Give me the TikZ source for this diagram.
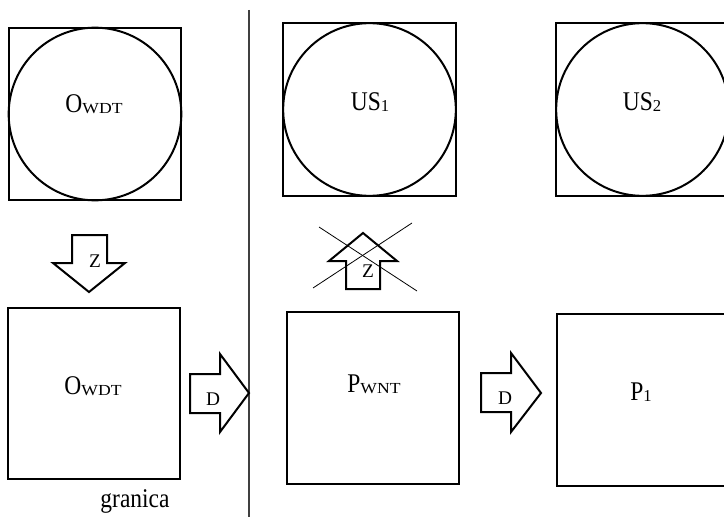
\documentclass[tikz,border=0pt]{standalone}
\usepackage{fontspec}
\usepackage{graphicx}
\setmainfont[FakeStretch=0.87]{Liberation Serif}
\newfontfamily\plainfont{Liberation Serif}
\newcommand\subtxt[1]{{\plainfont\fontsize{11.5pt}{12pt}\selectfont\raisebox{-1pt}{\scalebox{1.15}[1]{#1}}}}
\newcommand\subnum[1]{{\plainfont\fontsize{12.5pt}{13pt}\selectfont\raisebox{-1pt}{#1}}}
\tikzset{
  box/.style={draw, line width=1.5pt, rectangle, inner sep=0pt, outer sep=0pt},
  ring/.style={draw, line width=1.5pt, circle, inner sep=0pt, outer sep=0pt, minimum size=129.5pt},
  lbl/.style={anchor=base, inner sep=0pt, font=\fontsize{20.25pt}{22pt}\selectfont},
  albl/.style={anchor=base, inner sep=0pt, font=\plainfont\fontsize{14.5pt}{16pt}\selectfont},
  blockarrow/.style={draw, line width=1.5pt, fill=white, line join=miter},
  crossline/.style={draw, line width=0.6pt},
  divider/.style={draw, line width=0.9pt, black!75}
}
\begin{document}
\begin{tikzpicture}[x=0.75pt, y=-0.75pt]
\useasboundingbox (0,0) rectangle (724,517);
\clip (0,0) rectangle (724,517);
\fill[white] (0,0) rectangle (724,517);

% divider
\coordinate (dtop) at (249,10);
\coordinate (dbot) at (249,517);
\draw[divider] (dtop) -- (dbot);

% top row
\node[box, minimum width=129pt, minimum height=129pt] (owdtA) at (95,114) {};
\node[ring] (owdtAc) at (95,114) {};
\node[lbl] (owdtAl) at (94,112) {O\subtxt{WDT}};

\node[box, minimum width=129.75pt, minimum height=129.75pt] (us1) at (369.5,109.5) {};
\node[ring] (us1c) at (369.5,109.5) {};
\node[lbl] (us1l) at (370,110) {US\subnum{1}};

\node[box, minimum width=129.75pt, minimum height=129.75pt] (us2) at (642.5,109.5) {};
\node[ring] (us2c) at (642.5,109.5) {};
\node[lbl] (us2l) at (642,110) {US\subnum{2}};

% bottom row
\node[box, minimum width=129pt, minimum height=128.25pt] (owdtB) at (94,393.5) {};
\node[lbl] (owdtBl) at (93,394) {O\subtxt{WDT}};

\node[box, minimum width=129pt, minimum height=129pt] (pwnt) at (373,398) {};
\node[lbl] (pwntl) at (374,392) {P\subtxt{WNT}};

\node[box, minimum width=129.75pt, minimum height=129pt] (p1) at (643.5,400) {};
\node[lbl] (p1l) at (641,400) {P\subnum{1}};

% Z arrow (down)
\draw[blockarrow] (72,235) -- (107,235) -- (107,263) -- (125,263) -- (89,292) -- (53,263) -- (72,263) -- cycle;
\node[albl] (z1) at (95,267) {Z};

% crossed Z arrow (up)
\draw[blockarrow] (346,289) -- (380,289) -- (380,261) -- (397,261) -- (363,233) -- (329,261) -- (346,261) -- cycle;
\node[albl] (z2) at (368,277) {Z};
\coordinate (c1a) at (319,227);
\coordinate (c1b) at (417,291);
\coordinate (c2a) at (313,288);
\coordinate (c2b) at (412,223);
\draw[crossline] (c1a) -- (c1b);
\draw[crossline] (c2a) -- (c2b);

% D arrows
\draw[blockarrow] (190,374) -- (220,374) -- (220,354) -- (249,393) -- (220,432) -- (220,413) -- (190,413) -- cycle;
\node[albl] (d1) at (213,405) {D};

\draw[blockarrow] (481,373) -- (511,373) -- (511,353) -- (541,393) -- (511,432) -- (511,412) -- (481,412) -- cycle;
\node[albl] (d2) at (505,404) {D};

% granica
\node[lbl] (gran) at (135,507) {granica};
\end{tikzpicture}
\end{document}
